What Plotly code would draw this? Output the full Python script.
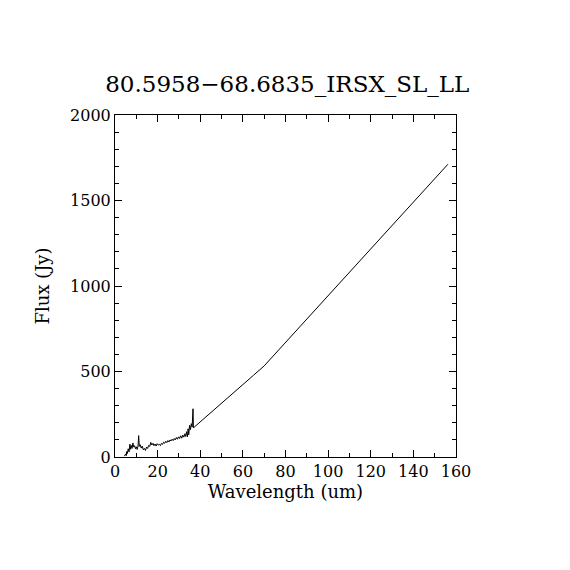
import plotly.graph_objects as go

# spectrum (wavelength in um, flux in Jy)
wavelength = [
    4.4, 5.0, 5.3, 5.5, 5.8, 6.2, 6.6, 7.0, 7.3, 7.6, 8.0, 8.4, 8.8, 9.2, 9.6,
    10.0, 10.4, 10.8, 11.1, 11.4, 11.8, 12.3, 12.8, 13.3, 13.8, 14.3, 14.8,
    15.3, 15.8, 16.3, 16.8, 17.3, 17.8, 18.3, 18.8, 19.3, 19.8, 20.3, 20.8,
    21.3, 21.8, 22.3, 22.8, 23.3, 23.8, 24.3, 24.8, 25.3, 25.8, 26.3, 26.8,
    27.3, 27.8, 28.3, 28.8, 29.3, 29.8, 30.3, 30.8, 31.3, 31.8, 32.3, 32.8,
    33.2, 33.6, 34.0, 34.3, 34.6, 35.0, 35.4, 35.8, 36.2, 36.6, 36.8, 37.2,
    40, 45, 50, 55, 60, 65, 70, 75, 80, 85, 90, 95, 100, 105, 110, 115,
    120, 125, 130, 135, 140, 145, 150, 156.2,
]
flux = [
    5, 18, 8, 32, 20, 48, 30, 75, 45, 68, 50, 82, 58, 66, 48,
    60, 44, 64, 125, 62, 72, 52, 64, 42, 50, 38, 58,
    50, 68, 62, 85, 70, 80, 66, 76, 64, 78, 70, 74,
    66, 80, 74, 86, 80, 92, 84, 96, 88, 100, 94, 104,
    96, 108, 100, 114, 104, 118, 108, 124, 110, 128, 116, 136,
    120, 148, 118, 165, 130, 185, 160, 195, 175, 282, 170, 175,
    205, 260, 316, 370, 424, 478, 533, 601, 670, 738, 806, 875, 943, 1011,
    1080, 1148, 1216, 1285, 1353, 1421, 1490, 1558, 1626, 1712,
]

title_text = "80.5958\u221268.6835_IRSX_SL_LL"
serif = "DejaVu Serif"

fig = go.Figure()
fig.add_trace(go.Scatter(
    x=wavelength, y=flux, mode="lines",
    line=dict(color="black", width=1),
    showlegend=False,
))

axis_style = dict(
    showline=True, linecolor="black", linewidth=1, mirror="ticks",
    ticks="inside", ticklen=7, tickwidth=1, tickcolor="black",
    showgrid=False, zeroline=False,
    tickfont=dict(family=serif, size=16, color="black"),
)

fig.update_xaxes(
    range=[0, 160], dtick=20,
    minor=dict(dtick=10, ticks="inside", ticklen=4, tickcolor="black"),
    title=dict(text="Wavelength (um)", standoff=5,
               font=dict(family=serif, size=18, color="black")),
    **axis_style,
)
fig.update_yaxes(
    range=[0, 2000], dtick=500,
    minor=dict(dtick=100, ticks="inside", ticklen=4, tickcolor="black"),
    title=dict(text="Flux (Jy)", standoff=15,
               font=dict(family=serif, size=18, color="black")),
    **axis_style,
)

fig.update_layout(
    width=570, height=570,
    paper_bgcolor="white", plot_bgcolor="white",
    margin=dict(l=107, r=122, t=107, b=121),
    title=dict(text=title_text, x=0.49, xanchor="center",
               y=1 - 76 / 570, yref="container", yanchor="middle",
               font=dict(family=serif, size=23, color="black")),
)

fig.write_html("out.html")
